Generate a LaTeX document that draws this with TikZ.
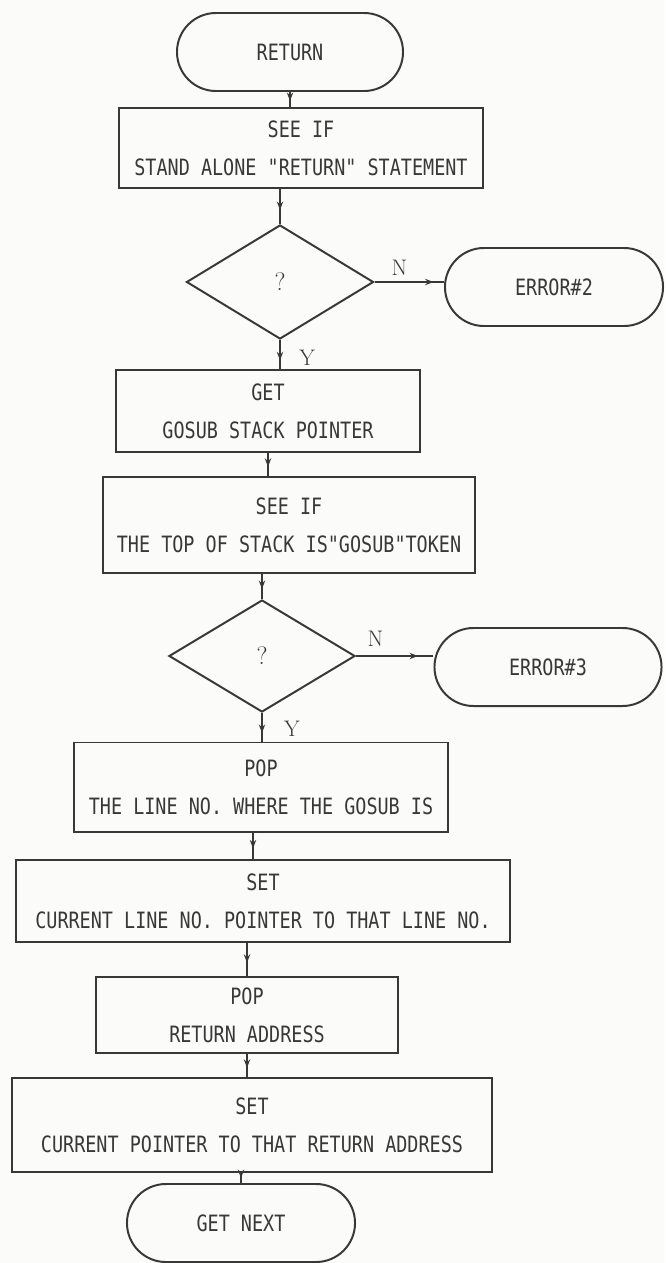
\documentclass[tikz,border=0pt]{standalone}
\usepackage{fontspec}
\newfontfamily\plotfont[FakeStretch=0.82]{DejaVu Sans Mono}
\usetikzlibrary{shapes.geometric, shapes.misc, arrows.meta, decorations.markings}
\definecolor{ink}{HTML}{383838}
\definecolor{paper}{HTML}{FBFBFA}
\tikzset{
  terminal/.style={
    rounded rectangle, draw=ink, line width=1.4pt, text=ink,
    minimum width=#1, minimum height=1.95cm, inner sep=0pt,
    font={\fontsize{16}{27}\selectfont\plotfont}
  },
  process/.style 2 args={
    rectangle, draw=ink, line width=1.4pt, text=ink, align=center,
    minimum width=#1, minimum height=#2, inner sep=0pt,
    font={\fontsize{16}{27}\selectfont\plotfont}
  },
  decision/.style={
    diamond, draw=ink, line width=1.4pt, text=ink, inner sep=0pt,
    minimum width=4.65cm, minimum height=2.8cm,
    font={\fontsize{18}{20}\selectfont}
  },
  answer/.style={
    text=ink, inner sep=1pt, font={\fontsize{16}{18}\selectfont}
  },
  flow/.style={
    line width=1.4pt, draw=ink, postaction={decorate},
    decoration={markings,
      mark=at position #1 with {\arrow[ink]{Stealth[length=6pt,width=4.5pt]}}}
  },
  flow/.default=0.6
}
\begin{document}
\begin{tikzpicture}[x=0.025cm, y=-0.025cm]

  \fill[paper] (0,0) rectangle (665,1263);
  \useasboundingbox (0,0) rectangle (665,1263);

  % main column
  \node[terminal=5.65cm] (ret) at (290,52) {RETURN};
  \node[process={9.075cm}{2.0cm}] (seeif) at (301,148)
    {SEE IF\\STAND ALONE "RETURN" STATEMENT};
  \node[decision, minimum width=4.675cm, minimum height=2.85cm] (qa) at (280,282) {?};
  \node[process={7.575cm}{2.05cm}] (getptr) at (268,411)
    {GET\\GOSUB STACK POINTER};
  \node[process={9.3cm}{2.4cm}] (seetop) at (289,525)
    {SEE IF\\THE TOP OF STACK IS"GOSUB"TOKEN};
  \node[decision] (qb) at (262,656) {?};
  \node[process={9.325cm}{2.225cm}] (popline) at (261,787)
    {POP\\THE LINE NO. WHERE THE GOSUB IS};
  \node[process={12.325cm}{2.05cm}] (setline) at (263,901)
    {SET\\CURRENT LINE NO. POINTER TO THAT LINE NO.};
  \node[process={7.525cm}{1.9cm}] (popaddr) at (247,1015)
    {POP\\RETURN ADDRESS};
  \node[process={11.975cm}{2.35cm}] (setaddr) at (252,1125)
    {SET\\CURRENT POINTER TO THAT RETURN ADDRESS};
  \node[terminal=5.7cm] (getnext) at (241,1223) {GET NEXT};

  % error exits
  \node[terminal=5.45cm] (errtwo) at (554,287) {ERROR\#2};
  \node[terminal=5.675cm] (errthree) at (548,667) {ERROR\#3};

  % connectors
  \draw[flow] (ret.south) -- (ret.south |- seeif.north);
  \draw[flow] (qa.north |- seeif.south) -- (qa.north);
  \draw[flow=0.85] (qa.east) -- node[answer, pos=0.36, above=3pt] (na) {N}
    (qa.east -| errtwo.west);
  \draw[flow=0.7] (qa.south) -- node[answer, pos=0.6, right=12pt] (ya) {Y}
    (qa.south |- getptr.north);
  \draw[flow] (getptr.south) -- (getptr.south |- seetop.north);
  \draw[flow] (qb.north |- seetop.south) -- (qb.north);
  \draw[flow=0.8] (qb.east) -- node[answer, pos=0.25, above=5pt] (nb) {N}
    (qb.east -| errthree.west);
  \draw[flow=0.7] (qb.south) -- node[answer, pos=0.55, right=14pt] (yb) {Y}
    (qb.south |- popline.north);
  \draw[flow] ([xshift=-0.2cm]popline.south) -- ([xshift=-0.2cm]popline.south |- setline.north);
  \draw[flow] (popaddr.north |- setline.south) -- (popaddr.north);
  \draw[flow] (popaddr.south) -- (popaddr.south |- setaddr.north);
  \draw[flow=0.5] (getnext.north |- setaddr.south) -- (getnext.north);

\end{tikzpicture}
\end{document}
